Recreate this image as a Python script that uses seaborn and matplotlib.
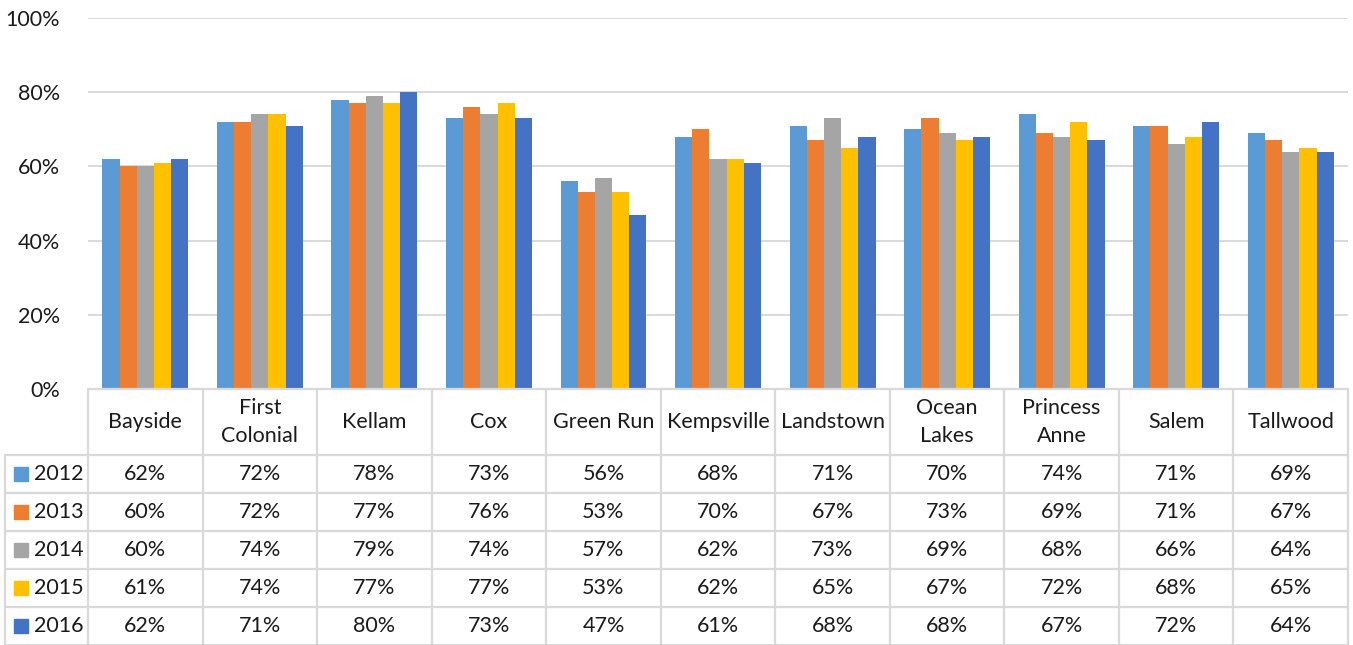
#import libraries
import numpy as np
import pandas as pd
import matplotlib.pyplot as plt
import seaborn as sns
from matplotlib.ticker import PercentFormatter

#chart data
schools = ["Bayside", "First Colonial", "Kellam", "Cox", "Green Run", "Kempsville",
           "Landstown", "Ocean Lakes", "Princess Anne", "Salem", "Tallwood"]
header_labels = ["Bayside", "First\nColonial", "Kellam", "Cox", "Green Run", "Kempsville",
                 "Landstown", "Ocean\nLakes", "Princess\nAnne", "Salem", "Tallwood"]
years = ["2012", "2013", "2014", "2015", "2016"]
v2012 = [62, 72, 78, 73, 56, 68, 71, 70, 74, 71, 69]
v2013 = [60, 72, 77, 76, 53, 70, 67, 73, 69, 71, 67]
v2014 = [60, 74, 79, 74, 57, 62, 73, 69, 68, 66, 64]
v2015 = [61, 74, 77, 77, 53, 62, 65, 67, 72, 68, 65]
v2016 = [62, 71, 80, 73, 47, 61, 68, 68, 67, 72, 64]
colors = ["#5B9BD5", "#ED7D31", "#A5A5A5", "#FFC000", "#4472C4"]

series = [v2012, v2013, v2014, v2015, v2016]
rows = []
for yr, vals in zip(years, series):
    for s, v in zip(schools, vals):
        rows.append({"school": s, "year": yr, "value": v / 100})
df = pd.DataFrame(rows)

sns.set_theme(style="white")
plt.rcParams["font.family"] = ["Lato", "DejaVu Sans"]

W, H = 1353, 645
fig = plt.figure(figsize=(W / 100, H / 100), dpi=100)
ax = fig.add_axes([88 / W, (H - 389) / H, 1260 / W, 371 / H])

sns.barplot(data=df, x="school", y="value", hue="year", palette=colors,
            saturation=1, width=0.75, gap=0, ax=ax, legend=False, linewidth=0)

ax.set_xlim(-0.5, len(schools) - 0.5)
ax.set_ylim(0, 1)
ax.set_yticks(np.arange(0, 1.01, 0.2))
ax.yaxis.set_major_formatter(PercentFormatter(1, decimals=0))
ax.tick_params(axis="y", labelsize=15.5, length=0, pad=20, colors="#1a1a1a")
ax.set_xticks([])
ax.set_xlabel("")
ax.set_ylabel("")
ax.grid(axis="y", color="#D9D9D9", lw=1.4)
ax.set_axisbelow(True)
for sp in ax.spines.values():
    sp.set_visible(False)

#data table under the plot
grid_c = "#D9D9D9"
trans = ax.get_xaxis_transform()
px = 1 / 371
header_h = 66 * px
row_h = 38 * px
bottom = -header_h - 5 * row_h
x_left = -0.5 - 83 / 114.5
n = len(schools)

for i in range(n + 1):
    ax.plot([i - 0.5, i - 0.5], [0, bottom], color=grid_c, lw=1.6,
            transform=trans, clip_on=False)
ax.plot([x_left, x_left], [-header_h, bottom], color=grid_c, lw=1.6,
        transform=trans, clip_on=False)
ax.plot([-0.5, n - 0.5], [0, 0], color=grid_c, lw=1.6, transform=trans, clip_on=False)
for r in range(6):
    y = -header_h - r * row_h
    ax.plot([x_left, n - 0.5], [y, y], color=grid_c, lw=1.6,
            transform=trans, clip_on=False)

for i, lab in enumerate(header_labels):
    ax.text(i, -header_h / 2, lab, ha="center", va="center", fontsize=15.5,
            linespacing=1.5, color="#1a1a1a", transform=trans)

for r, (yr, vals, c) in enumerate(zip(years, series, colors)):
    yc = -header_h - (r + 0.5) * row_h
    sq = 14 / 114.5
    ax.add_patch(plt.Rectangle((x_left + 9 / 114.5, yc - 7 * px), sq, 14 * px,
                               color=c, transform=trans, clip_on=False))
    ax.text(x_left + 29 / 114.5, yc, yr, ha="left", va="center", fontsize=15.5,
            color="#1a1a1a", transform=trans)
    for i, v in enumerate(vals):
        ax.text(i, yc, f"{v}%", ha="center", va="center", fontsize=15.5,
                color="#1a1a1a", transform=trans)

plt.savefig("out.png", dpi=100)
